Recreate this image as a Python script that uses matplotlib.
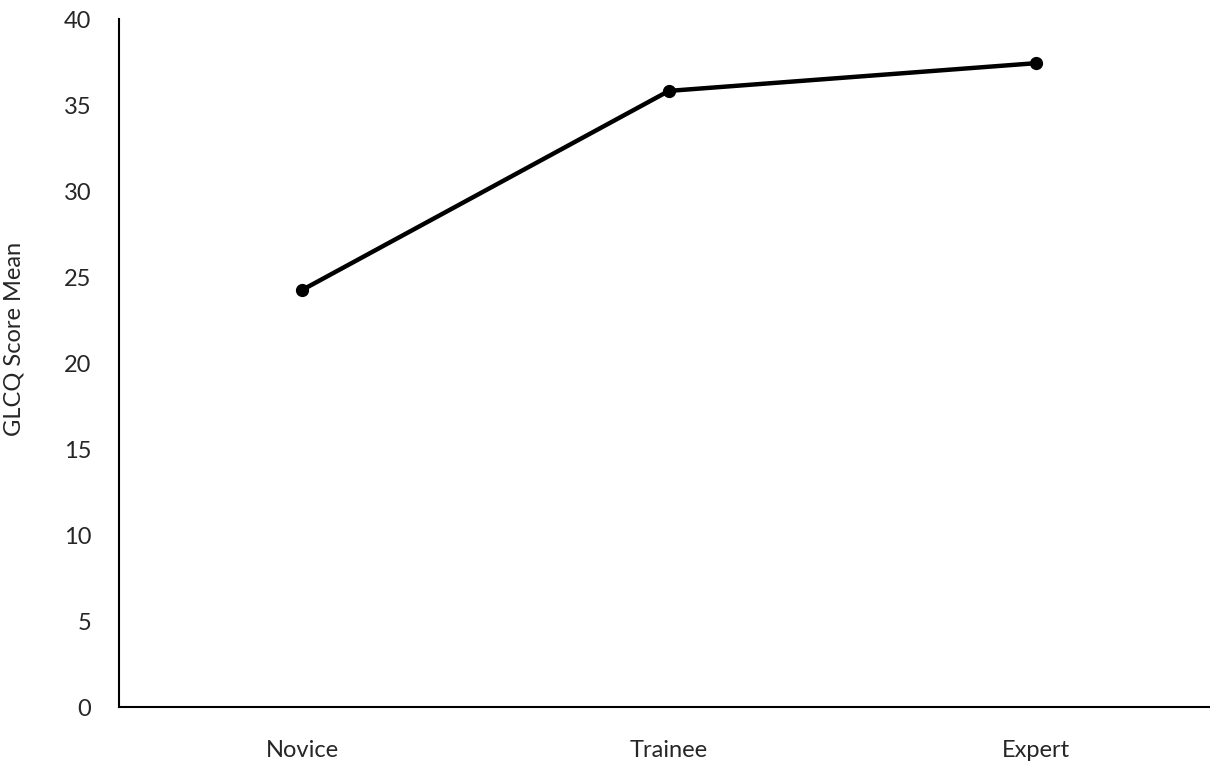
import matplotlib.pyplot as plt

plt.rcParams['font.family'] = ['Lato', 'DejaVu Sans']

groups = ['Novice', 'Trainee', 'Expert']
scores = [24.25, 35.82, 37.43]
yticks = [0, 5, 10, 15, 20, 25, 30, 35, 40]

fig = plt.figure(figsize=(12.1, 7.61), dpi=100)
ax = fig.add_axes([119 / 1210, 1 - 707 / 761, 1 - 119 / 1210, 688 / 761])

x = range(len(groups))
ax.plot(x, scores, color='black', linewidth=3.2, marker='o', markersize=8.5,
        solid_capstyle='round')

ax.set_xlim(-0.5, -0.5 + 1091 / 366.6)
ax.set_ylim(0, 40)
ax.set_xticks(list(x))
ax.set_xticklabels(groups)
ax.set_yticks(yticks)

ax.spines['top'].set_visible(False)
ax.spines['right'].set_visible(False)
ax.spines['left'].set_linewidth(1.5)
ax.spines['bottom'].set_linewidth(1.5)
ax.tick_params(axis='both', length=0, labelsize=17, colors='#262626')
ax.tick_params(axis='y', pad=20)
ax.tick_params(axis='x', pad=24)

ax.set_ylabel('GLCQ Score Mean', fontsize=17, color='#262626')
ax.yaxis.set_label_coords(-0.087, 0.535)

fig.savefig('out.png', dpi=100)
